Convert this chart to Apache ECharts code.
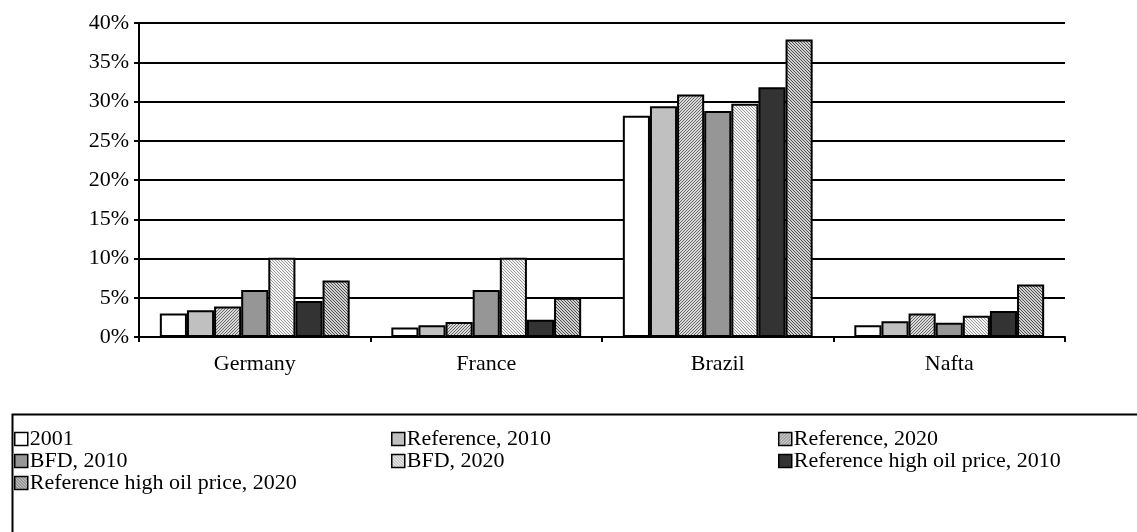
<!DOCTYPE html>
<html>
<head>
<meta charset="utf-8">
<script src="https://cdn.jsdelivr.net/npm/echarts@6/dist/echarts.min.js"></script>
<style>html,body{margin:0;padding:0;background:#fff}#c{width:1137px;height:532px}</style>
</head>
<body>
<div id="c"></div>
<script>
const categories = ['Germany', 'France', 'Brazil', 'Nafta'];
const seriesNames = ['2001', 'Reference, 2010', 'Reference, 2020', 'BFD, 2010', 'BFD, 2020', 'Reference high oil price, 2010', 'Reference high oil price, 2020'];
const s2001 = [3.0, 1.2, 28.2, 1.5];
const sRef2010 = [3.4, 1.5, 29.4, 2.0];
const sRef2020 = [3.9, 1.9, 30.9, 3.0];
const sBFD2010 = [6.0, 6.0, 28.8, 1.8];
const sBFD2020 = [10.1, 10.1, 29.7, 2.7];
const sRHOP2010 = [4.6, 2.2, 31.8, 3.3];
const sRHOP2020 = [7.2, 5.0, 37.9, 6.7];
const yTicks = [0, 5, 10, 15, 20, 25, 30, 35, 40];

function pattern(bg, fg, period, dir) {
  const c = document.createElement('canvas');
  c.width = period; c.height = period;
  const ctx = c.getContext('2d');
  ctx.fillStyle = bg; ctx.fillRect(0, 0, period, period);
  ctx.fillStyle = fg;
  for (let i = 0; i < period; i++) {
    const x = dir > 0 ? (period - 1 - i) : i;
    ctx.fillRect(x, i, 1, 1);
  }
  return { image: c, repeat: 'repeat' };
}

const fills = [
  '#ffffff',
  '#c0c0c0',
  pattern('#d8d8d8', '#6a6a6a', 3, 1),
  '#969696',
  pattern('#f4f4f4', '#9a9a9a', 3, -1),
  '#333333',
  pattern('#d0d0d0', '#505050', 3, -1)
];
const dataArr = [s2001, sRef2010, sRef2020, sBFD2010, sBFD2020, sRHOP2010, sRHOP2020];

const font = 'Liberation Serif';
const fs = 22;
const series = seriesNames.map((n, i) => ({
  name: n,
  type: 'bar',
  data: dataArr[i],
  barGap: '0%',
  barCategoryGap: '18%',
  itemStyle: { color: fills[i], borderColor: '#000', borderWidth: 2 },
  emphasis: { disabled: true },
  animation: false
}));

const legendCols = [
  [seriesNames[0], seriesNames[3], seriesNames[6]],
  [seriesNames[1], seriesNames[4]],
  [seriesNames[2], seriesNames[5]]
];
const legendLefts = [9, 386, 773];
const legends = legendCols.map((d, i) => ({
  data: d,
  orient: 'vertical',
  left: legendLefts[i],
  top: 423,
  itemGap: 0,
  itemWidth: 13,
  itemHeight: 13,
  icon: 'rect',
  selectedMode: false,
  itemStyle: { borderColor: '#000', borderWidth: 1.5 },
  textStyle: { fontFamily: font, fontSize: fs, color: '#000', padding: [0, 0, 0, -3] }
}));

const chart = echarts.init(document.getElementById('c'), null, { renderer: 'canvas' });
chart.setOption({
  animation: false,
  backgroundColor: '#fff',
  grid: { left: 139, right: 72, top: 23, bottom: 195 },
  legend: legends,
  graphic: [{
    type: 'rect', left: 10, top: 412,
    shape: { width: 1200, height: 200 },
    style: { fill: 'none', stroke: '#000', lineWidth: 2 },
    silent: true
  }],
  xAxis: {
    type: 'category',
    data: categories,
    axisLine: { lineStyle: { color: '#000', width: 2 } },
    axisTick: { show: true, length: 5, lineStyle: { color: '#000', width: 2 } },
    axisLabel: { fontFamily: font, fontSize: fs, color: '#000', margin: 16 }
  },
  yAxis: {
    type: 'value',
    min: yTicks[0],
    max: yTicks[yTicks.length - 1],
    interval: 5,
    axisLine: { show: true, lineStyle: { color: '#000', width: 2 } },
    axisTick: { show: true, length: 5, lineStyle: { color: '#000', width: 2 } },
    splitLine: { show: true, lineStyle: { color: '#000', width: 2 } },
    axisLabel: { fontFamily: font, fontSize: fs, color: '#000', margin: 10, formatter: '{value}%' }
  },
  series: series
});
</script>
</body>
</html>
